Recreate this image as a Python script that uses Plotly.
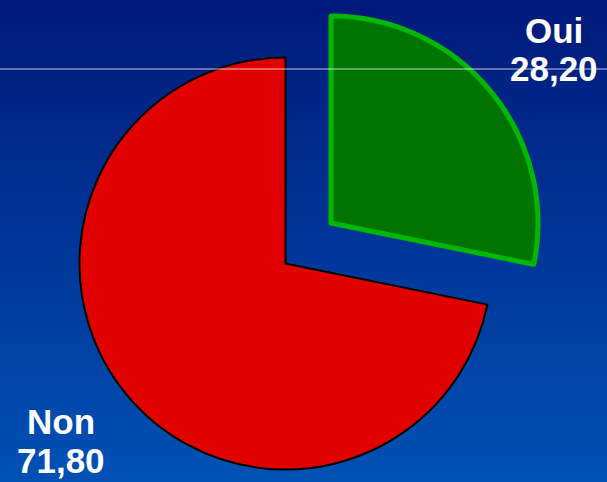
import base64
import plotly.graph_objects as go

# ---- data ----
labels = ["Oui", "Non"]
values = [28.20, 71.80]

# ---- styles ----
W, H = 607, 482
fill_colors = ["#007400", "#e00000"]
line_colors = ["#00b800", "#000000"]
line_widths = [5, 2]

def fmt(v):
    return f"{v:.2f}".replace(".", ",")

def dom(cx, cy, r):
    # cx, cy in pixels from top-left
    return dict(x=[(cx - r) / W, (cx + r) / W],
                y=[(H - cy - r) / H, (H - cy + r) / H])

fig = go.Figure()

# main pie (Non visible, Oui hidden)
fig.add_trace(go.Pie(
    labels=labels, values=values, sort=False, direction="clockwise", rotation=0,
    marker=dict(colors=["rgba(0,0,0,0)", fill_colors[1]],
                line=dict(color=["rgba(0,0,0,0)", line_colors[1]], width=line_widths[1])),
    textinfo="none", hoverinfo="label+value", showlegend=False,
    domain=dom(285.5, 263.5, 206),
))
# exploded slice (Oui visible)
fig.add_trace(go.Pie(
    labels=labels, values=values, sort=False, direction="clockwise", rotation=0,
    marker=dict(colors=[fill_colors[0], "rgba(0,0,0,0)"],
                line=dict(color=[line_colors[0], "rgba(0,0,0,0)"], width=line_widths[0])),
    textinfo="none", hoverinfo="label+value", showlegend=False,
    domain=dom(331, 223, 207),
))

# background gradient
svg = (f'<svg xmlns="http://www.w3.org/2000/svg" width="{W}" height="{H}" preserveAspectRatio="none">'
       '<defs><linearGradient id="g" x1="0" y1="0" x2="0" y2="1">'
       '<stop offset="0" stop-color="#00197a"/><stop offset="1" stop-color="#0051b4"/>'
       '</linearGradient></defs><rect width="100%" height="100%" fill="url(#g)"/></svg>')
src = "data:image/svg+xml;base64," + base64.b64encode(svg.encode()).decode()

label_pos = {"Oui": (554, 30, 68), "Non": (61, 421, 460)}
annotations = []
for lab, val in zip(labels, values):
    x, y1, y2 = label_pos[lab]
    for txt, yy in ((lab, y1), (fmt(val), y2)):
        annotations.append(dict(
            text=f"<b>{txt}</b>", x=x / W, y=(H - yy) / H, xref="paper", yref="paper",
            xanchor="center", yanchor="middle", showarrow=False,
            font=dict(family="Liberation Sans, Arial, sans-serif", size=35, color="white"),
        ))

fig.update_layout(
    width=W, height=H, margin=dict(l=0, r=0, t=0, b=0),
    paper_bgcolor="#0035a0", plot_bgcolor="rgba(0,0,0,0)",
    images=[dict(source=src, xref="paper", yref="paper", x=0, y=1, sizex=1, sizey=1,
                 xanchor="left", yanchor="top", sizing="stretch", layer="below")],
    shapes=[dict(type="line", xref="paper", yref="paper", x0=0, x1=1,
                 y0=(H - 69) / H, y1=(H - 69) / H,
                 line=dict(color="rgba(255,255,255,0.75)", width=1), layer="above")],
    annotations=annotations,
)

fig.write_html("out.html", config={"displayModeBar": False},
               post_script="document.body.style.margin='0';document.body.style.overflow='hidden';")
